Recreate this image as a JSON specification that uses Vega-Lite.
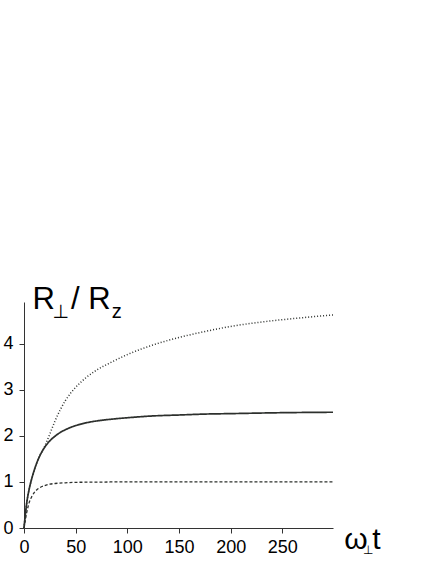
{
  "$schema": "https://vega.github.io/schema/vega-lite/v6.json",
  "width": 309,
  "height": 226,
  "autosize": "none",
  "padding": {"left": 24, "top": 302, "right": 103, "bottom": 36},
  "background": "white",
  "config": {"view": {"stroke": null}, "font": "Liberation Sans"},
  "layer": [
    {
      "data": {"values": [
        {"s": "solid", "t": 0, "r": 0}, {"s": "solid", "t": 2.5, "r": 0.52}, {"s": "solid", "t": 5, "r": 0.84},
        {"s": "solid", "t": 7.5, "r": 1.07}, {"s": "solid", "t": 10, "r": 1.26}, {"s": "solid", "t": 12.5, "r": 1.42},
        {"s": "solid", "t": 15, "r": 1.55}, {"s": "solid", "t": 17.5, "r": 1.66}, {"s": "solid", "t": 20, "r": 1.75},
        {"s": "solid", "t": 25, "r": 1.89}, {"s": "solid", "t": 30, "r": 1.99}, {"s": "solid", "t": 35, "r": 2.07},
        {"s": "solid", "t": 40, "r": 2.13}, {"s": "solid", "t": 45, "r": 2.18}, {"s": "solid", "t": 50, "r": 2.22},
        {"s": "solid", "t": 60, "r": 2.28}, {"s": "solid", "t": 70, "r": 2.32}, {"s": "solid", "t": 85, "r": 2.36},
        {"s": "solid", "t": 100, "r": 2.39}, {"s": "solid", "t": 125, "r": 2.43}, {"s": "solid", "t": 150, "r": 2.45},
        {"s": "solid", "t": 175, "r": 2.47}, {"s": "solid", "t": 200, "r": 2.48}, {"s": "solid", "t": 250, "r": 2.5},
        {"s": "solid", "t": 299, "r": 2.51},
        {"s": "dotted", "t": 0, "r": 0}, {"s": "dotted", "t": 2.5, "r": 0.52}, {"s": "dotted", "t": 5, "r": 0.84},
        {"s": "dotted", "t": 7.5, "r": 1.07}, {"s": "dotted", "t": 10, "r": 1.26}, {"s": "dotted", "t": 12.5, "r": 1.42},
        {"s": "dotted", "t": 15, "r": 1.56}, {"s": "dotted", "t": 17.5, "r": 1.66}, {"s": "dotted", "t": 20, "r": 1.77},
        {"s": "dotted", "t": 25, "r": 2.04}, {"s": "dotted", "t": 30, "r": 2.32}, {"s": "dotted", "t": 35, "r": 2.56},
        {"s": "dotted", "t": 40, "r": 2.76}, {"s": "dotted", "t": 45, "r": 2.92}, {"s": "dotted", "t": 50, "r": 3.05},
        {"s": "dotted", "t": 60, "r": 3.26}, {"s": "dotted", "t": 70, "r": 3.42}, {"s": "dotted", "t": 85, "r": 3.6},
        {"s": "dotted", "t": 100, "r": 3.76}, {"s": "dotted", "t": 125, "r": 3.97}, {"s": "dotted", "t": 150, "r": 4.13},
        {"s": "dotted", "t": 175, "r": 4.26}, {"s": "dotted", "t": 200, "r": 4.37}, {"s": "dotted", "t": 235, "r": 4.48},
        {"s": "dotted", "t": 265, "r": 4.55}, {"s": "dotted", "t": 299, "r": 4.62},
        {"s": "dashed", "t": 0, "r": 0}, {"s": "dashed", "t": 2.5, "r": 0.32}, {"s": "dashed", "t": 5, "r": 0.55},
        {"s": "dashed", "t": 7.5, "r": 0.68}, {"s": "dashed", "t": 10, "r": 0.77}, {"s": "dashed", "t": 12.5, "r": 0.83},
        {"s": "dashed", "t": 15, "r": 0.87}, {"s": "dashed", "t": 20, "r": 0.92}, {"s": "dashed", "t": 25, "r": 0.95},
        {"s": "dashed", "t": 30, "r": 0.965}, {"s": "dashed", "t": 40, "r": 0.98}, {"s": "dashed", "t": 50, "r": 0.99},
        {"s": "dashed", "t": 70, "r": 0.995}, {"s": "dashed", "t": 100, "r": 1.0}, {"s": "dashed", "t": 150, "r": 1.0},
        {"s": "dashed", "t": 200, "r": 1.0}, {"s": "dashed", "t": 250, "r": 1.0}, {"s": "dashed", "t": 299, "r": 1.0}
      ]},
      "mark": {"type": "line", "interpolate": "monotone", "color": "#2d302d"},
      "encoding": {
        "x": {
          "field": "t", "type": "quantitative",
          "scale": {"domain": [0, 299], "nice": false, "zero": false},
          "axis": {
            "title": null, "grid": false,
            "values": [0, 25, 50, 75, 100, 125, 150, 175, 200, 225, 250, 275],
            "labelExpr": "datum.value % 50 === 0 ? datum.label : ''",
            "format": "d",
            "domainColor": "#333333", "tickColor": "#333333",
            "tickSize": {"condition": {"test": "datum.value % 50 === 0", "value": 5}, "value": 3},
            "labelFontSize": 18, "labelColor": "#000000", "labelPadding": 5,
            "labelOverlap": false, "labelFlush": false
          }
        },
        "y": {
          "field": "r", "type": "quantitative",
          "scale": {"domain": [0, 4.9], "nice": false},
          "axis": {
            "title": null, "grid": false,
            "values": [0, 0.5, 1, 1.5, 2, 2.5, 3, 3.5, 4, 4.5],
            "labelExpr": "datum.value % 1 === 0 ? datum.label : ''",
            "format": "~g",
            "domainColor": "#333333", "tickColor": "#333333",
            "tickSize": {"condition": {"test": "datum.value % 1 === 0", "value": 5}, "value": 3},
            "labelFontSize": 18, "labelColor": "#000000", "labelPadding": 6,
            "labelOverlap": false, "labelFlush": false
          }
        },
        "detail": {"field": "s", "type": "nominal"},
        "strokeDash": {
          "field": "s", "type": "nominal",
          "scale": {"domain": ["solid", "dotted", "dashed"], "range": [[1, 0], [1, 2], [3, 2]]},
          "legend": null
        },
        "strokeWidth": {
          "field": "s", "type": "nominal",
          "scale": {"domain": ["solid", "dotted", "dashed"], "range": [1.7, 1.3, 1.6]},
          "legend": null
        }
      }
    },
    {
      "data": {"values": [{}]},
      "mark": {"type": "text", "text": "R", "fontSize": 31, "align": "left", "baseline": "alphabetic", "color": "#000000"},
      "encoding": {"x": {"datum": 8.2}, "y": {"datum": 4.75}}
    },
    {
      "data": {"values": [{}]},
      "mark": {"type": "text", "text": "⊥", "font": "DejaVu Sans", "fontSize": 19, "align": "left", "baseline": "alphabetic", "color": "#000000"},
      "encoding": {"x": {"datum": 27.6}, "y": {"datum": 4.56}}
    },
    {
      "data": {"values": [{}]},
      "mark": {"type": "text", "text": "/ R", "fontSize": 31, "align": "left", "baseline": "alphabetic", "color": "#000000"},
      "encoding": {"x": {"datum": 45.5}, "y": {"datum": 4.75}}
    },
    {
      "data": {"values": [{}]},
      "mark": {"type": "text", "text": "z", "fontSize": 20, "align": "left", "baseline": "alphabetic", "color": "#000000"},
      "encoding": {"x": {"datum": 85}, "y": {"datum": 4.56}}
    },
    {
      "data": {"values": [{}]},
      "mark": {"type": "text", "text": "ω", "fontSize": 30, "align": "left", "baseline": "alphabetic", "color": "#000000"},
      "encoding": {"x": {"datum": 310}, "y": {"datum": -0.455}}
    },
    {
      "data": {"values": [{}]},
      "mark": {"type": "text", "text": "⊥", "font": "DejaVu Sans", "fontSize": 12, "align": "left", "baseline": "alphabetic", "color": "#000000"},
      "encoding": {"x": {"datum": 328}, "y": {"datum": -0.56}}
    },
    {
      "data": {"values": [{}]},
      "mark": {"type": "text", "text": "t", "fontSize": 30, "align": "left", "baseline": "alphabetic", "color": "#000000"},
      "encoding": {"x": {"datum": 337}, "y": {"datum": -0.455}}
    }
  ]
}
